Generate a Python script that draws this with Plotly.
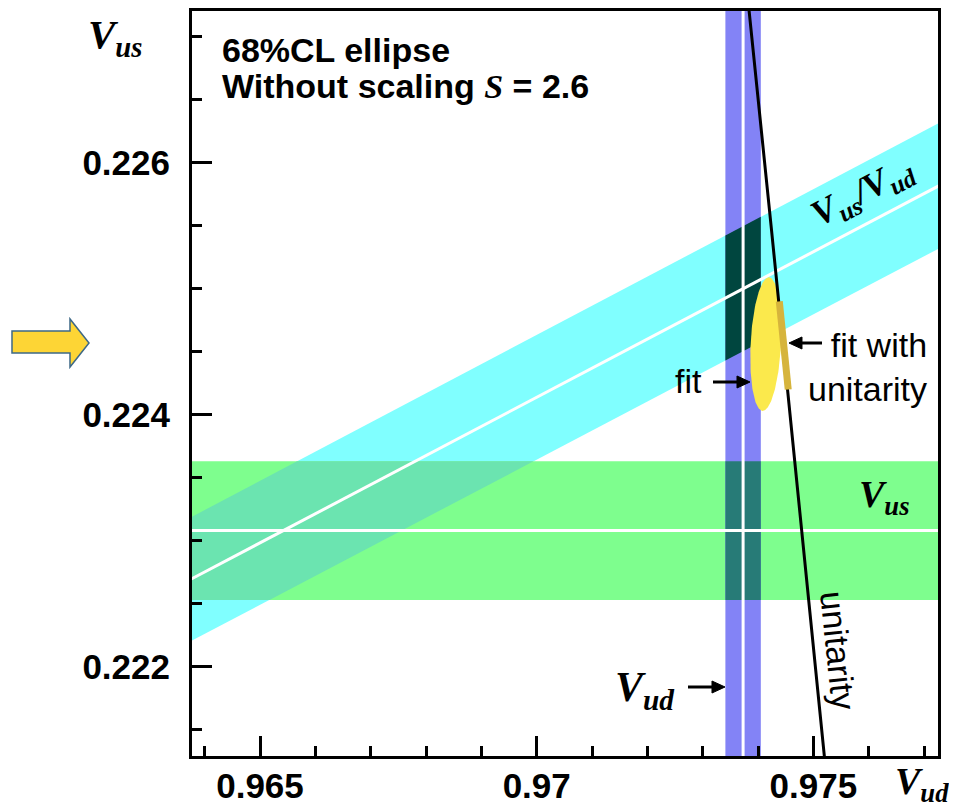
import numpy as np
import plotly.graph_objects as go

# ---------------- data ----------------
x_tick_vals = [0.965, 0.970, 0.975]
x_tick_text = ["0.965", "0.97", "0.975"]
y_tick_vals = [0.222, 0.224, 0.226]
y_tick_text = ["0.222", "0.224", "0.226"]

x_range = [0.963771, 0.977252]
y_range = [0.221291, 0.227204]

vud_center = 0.97373
vud_err = 0.00032
vus_center = 0.22308
vus_err = 0.00055
ratio_center = 0.23107      # Vus/Vud
ratio_err = 0.00051
vub_sq = 0.000015           # |Vub|^2 in unitarity relation

fit_center = [0.97414, 0.22456]   # (Vud, Vus)
fit_sigma = [0.00028, 0.00053]
fit_rho = 0.2

unit_fit_vus = [0.22420, 0.22490]  # Vus extent of the fit with unitarity

# ---------------- colours ----------------
C_CYAN = "#80ffff"
C_GREEN = "#7efe8e"
C_BLUE = "#8383f6"
C_CYAN_GREEN = "#6be4b0"
C_BLUE_CYAN = "#00463f"
C_BLUE_GREEN = "#277b77"
C_ELL = "#fbe94c"
C_GOLD = "#d6b43c"

# ---------------- geometry helpers (screen pixels -> plot fractions) ----------------
OFF = 8                      # page body margin
FIG_W, FIG_H = 949, 799
L, R, T, B = 192, 938, 11, 756
W, H = R - L, B - T


def PX(px):
    return (px - L) / W


def PY(py):
    return (B - py) / H


def clip(subject, clipper):
    cx = [p[0] for p in clipper]
    cy = [p[1] for p in clipper]
    n = len(cx)
    area = sum(cx[i] * cy[(i + 1) % n] - cx[(i + 1) % n] * cy[i] for i in range(n))
    sgn = 1 if area > 0 else -1

    def inside(p, a, b):
        return sgn * ((b[0] - a[0]) * (p[1] - a[1]) - (b[1] - a[1]) * (p[0] - a[0])) >= 0

    def inter(p, q, a, b):
        x1, y1 = p; x2, y2 = q; x3, y3 = a; x4, y4 = b
        den = (x1 - x2) * (y3 - y4) - (y1 - y2) * (x3 - x4)
        t = ((x1 - x3) * (y3 - y4) - (y1 - y3) * (x3 - x4)) / den
        return (x1 + t * (x2 - x1), y1 + t * (y2 - y1))

    out = list(subject)
    for i in range(n):
        a, b = clipper[i], clipper[(i + 1) % n]
        inp = out
        out = []
        if not inp:
            break
        s = inp[-1]
        for e in inp:
            if inside(e, a, b):
                if not inside(s, a, b):
                    out.append(inter(s, e, a, b))
                out.append(e)
            elif inside(s, a, b):
                out.append(inter(s, e, a, b))
            s = e
    return out


xe = [x_range[0] - 0.001, x_range[1] + 0.001]
ye = [y_range[0] - 0.001, y_range[1] + 0.001]

cyan_poly = [(x, (ratio_center + ratio_err) * x) for x in xe] + \
            [(x, (ratio_center - ratio_err) * x) for x in xe[::-1]]
green_poly = [(xe[0], vus_center - vus_err), (xe[1], vus_center - vus_err),
              (xe[1], vus_center + vus_err), (xe[0], vus_center + vus_err)]
blue_poly = [(vud_center - vud_err, ye[0]), (vud_center + vud_err, ye[0]),
             (vud_center + vud_err, ye[1]), (vud_center - vud_err, ye[1])]

fig = go.Figure()


def add_poly(poly, color):
    if not poly:
        return
    xs = [p[0] for p in poly] + [poly[0][0]]
    ys = [p[1] for p in poly] + [poly[0][1]]
    fig.add_trace(go.Scatter(x=xs, y=ys, mode="lines", fill="toself", fillcolor=color,
                             line=dict(width=0, color=color), hoverinfo="skip", showlegend=False))


add_poly(cyan_poly, C_CYAN)
add_poly(green_poly, C_GREEN)
add_poly(clip(green_poly, cyan_poly), C_CYAN_GREEN)
add_poly(blue_poly, C_BLUE)
add_poly(clip(blue_poly, cyan_poly), C_BLUE_CYAN)
add_poly(clip(blue_poly, green_poly), C_BLUE_GREEN)

# central white lines
fig.add_trace(go.Scatter(x=xe, y=[ratio_center * x for x in xe], mode="lines",
                         line=dict(color="white", width=3), hoverinfo="skip", showlegend=False))
fig.add_trace(go.Scatter(x=xe, y=[vus_center, vus_center], mode="lines",
                         line=dict(color="white", width=3), hoverinfo="skip", showlegend=False))
fig.add_trace(go.Scatter(x=[vud_center, vud_center], y=ye, mode="lines",
                         line=dict(color="white", width=3), hoverinfo="skip", showlegend=False))

# fit ellipse
t = np.linspace(0, 2 * np.pi, 200)
ex = fit_center[0] + fit_sigma[0] * np.cos(t)
ey = fit_center[1] + fit_sigma[1] * (fit_rho * np.cos(t) + np.sqrt(1 - fit_rho ** 2) * np.sin(t))
fig.add_trace(go.Scatter(x=ex, y=ey, mode="lines", fill="toself", fillcolor=C_ELL,
                         line=dict(width=0, color=C_ELL), hoverinfo="skip", showlegend=False))

# unitarity line
uvus = np.linspace(ye[0], ye[1], 50)
uvud = np.sqrt(1 - vub_sq - uvus ** 2)
fig.add_trace(go.Scatter(x=uvud, y=uvus, mode="lines", line=dict(color="black", width=3),
                         hoverinfo="skip", showlegend=False))

# fit with unitarity
gvus = np.linspace(unit_fit_vus[0], unit_fit_vus[1], 20)
gvud = np.sqrt(1 - vub_sq - gvus ** 2) + 0.00001
fig.add_trace(go.Scatter(x=gvud, y=gvus, mode="lines", line=dict(color=C_GOLD, width=7),
                         hoverinfo="skip", showlegend=False))

SANS = "Liberation Sans"
SERIF = "Liberation Serif"
ann = []
shapes = []


def text(px, py, s, size, family=SANS, bold=False, xanchor="center", yanchor="middle", angle=0, align="left"):
    ann.append(dict(xref="paper", yref="paper", x=PX(px), y=PY(py), text=s, showarrow=False,
                    xanchor=xanchor, yanchor=yanchor, textangle=angle, align=align,
                    font=dict(family=family, size=size, color="black",
                              weight="bold" if bold else "normal")))


def arrow(tx, ty, hx, hy):
    d = 1 if hx > tx else -1
    head = 13
    shapes.append(dict(type="line", xref="paper", yref="paper", x0=PX(tx), y0=PY(ty),
                       x1=PX(hx - d * (head - 2)), y1=PY(hy), line=dict(color="black", width=3)))
    p = [(hx, hy), (hx - d * head, hy - 6), (hx - d * head, hy + 6)]
    path = "M " + " L ".join(f"{PX(a):.5f},{PY(b):.5f}" for a, b in p) + " Z"
    shapes.append(dict(type="path", xref="paper", yref="paper", path=path, fillcolor="black",
                       line=dict(color="black", width=1)))


text(220, 50, "68%CL ellipse", 34, bold=True, xanchor="left")
text(220, 86, "Without scaling <span style='font-family:Liberation Serif'><i>S</i></span> = 2.6", 34,
     bold=True, xanchor="left")

# axis titles
text(86, 9, "<i>V</i><sub><i>us</i></sub>", 41, family=SERIF, bold=True, xanchor="left", yanchor="top")
text(893, 784, "<i>V</i><sub><i>ud</i></sub>", 38, family=SERIF, bold=True, xanchor="left")

# band labels
text(862, 193, "<i>V</i><sub><i>us</i></sub><i>/V</i><sub><i>ud</i></sub>", 36, family=SERIF, bold=True,
     angle=-27.8)
text(884, 497, "<i>V</i><sub><i>us</i></sub>", 38, family=SERIF, bold=True)
text(645, 690, "<i>V</i><sub><i>ud</i></sub>", 42, family=SERIF, bold=True)
arrow(688, 687, 725, 687)

text(838, 650, "unitarity", 34, angle=84)
text(688, 381, "fit", 34)
arrow(713, 382, 750, 382)
text(929, 367, "fit with<br>unitarity", 34, xanchor="right", align="right")
arrow(822, 343, 789, 343)

# yellow arrow on the left
arrow_px = [(12, 331), (70, 331), (70, 319), (89, 343), (70, 367), (70, 353), (12, 353)]
path = "M " + " L ".join(f"{PX(a):.5f},{PY(b):.5f}" for a, b in arrow_px) + " Z"
shapes.append(dict(type="path", xref="paper", yref="paper", path=path, fillcolor="#fdd535",
                   line=dict(color="#3d6886", width=1.5), layer="above"))

tickfont = dict(family=SANS, size=35, color="black", weight="bold")
fig.update_layout(
    width=FIG_W, height=FIG_H,
    margin=dict(l=L - OFF, r=FIG_W - (R - OFF), t=T - OFF, b=FIG_H - (B - OFF), autoexpand=False),
    paper_bgcolor="white", plot_bgcolor="white",
    showlegend=False,
    annotations=ann, shapes=shapes,
    xaxis=dict(range=x_range, tickmode="array", tickvals=x_tick_vals, ticktext=x_tick_text,
               ticks="inside", ticklen=20, tickwidth=3, tickcolor="black",
               minor=dict(tick0=0.965, dtick=0.001, ticks="inside", ticklen=10, tickwidth=3,
                          tickcolor="black", showgrid=False),
               showline=True, linewidth=3, linecolor="black", mirror=True, showgrid=False,
               zeroline=False, tickfont=tickfont, ticklabelstandoff=-3, automargin=False),
    yaxis=dict(range=y_range, tickmode="array", tickvals=y_tick_vals, ticktext=y_tick_text,
               ticks="inside", ticklen=20, tickwidth=3, tickcolor="black",
               minor=dict(tick0=0.222, dtick=0.0005, ticks="inside", ticklen=10, tickwidth=3,
                          tickcolor="black", showgrid=False),
               showline=True, linewidth=3, linecolor="black", mirror=True, showgrid=False,
               zeroline=False, tickfont=tickfont, ticklabelstandoff=12, automargin=False),
)

fig.write_html("out.html")
